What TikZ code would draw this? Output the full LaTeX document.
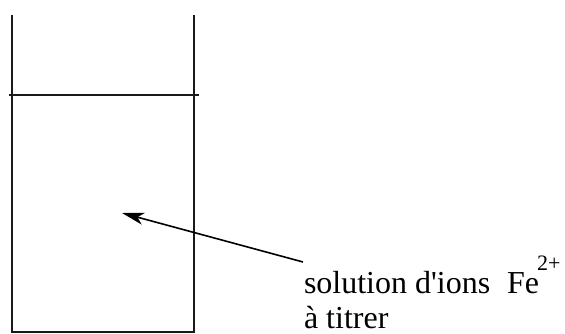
\documentclass[tikz,border=0pt]{standalone}
\usepackage{fontspec}
\newfontfamily\tfont{Liberation Serif}
\usetikzlibrary{arrows.meta}
\tikzset{
  px/.style={x=1pt,y=-1pt},
  wall/.style={line width=1.5pt,black!90},
  lbl/.style={anchor=base west,inner sep=0pt,outer sep=0pt,font=\tfont\fontsize{32}{35}\selectfont},
  sup/.style={anchor=base west,inner sep=0pt,outer sep=0pt,font=\tfont\fontsize{22}{24}\selectfont},
  pointer/.style={line width=1.6pt,-{Stealth[length=22pt,width=12pt,inset=6pt]}}
}
\begin{document}
\begin{tikzpicture}[px]
\useasboundingbox (0,0) rectangle (565,334);
\coordinate (tl) at (12,15);
\coordinate (bl) at (12,332);
\coordinate (br) at (194,332);
\coordinate (tr) at (194,15);
\coordinate (ll) at (9,95);
\coordinate (lr) at (198.5,95);
\coordinate (tip) at (122,213);
\coordinate (tail) at (303,262);
\draw[wall] (tl) -- (bl) -- (br) -- (tr);
\draw[wall] (ll) -- (lr);
\node[lbl] (t1) at (304,293) {solution d'ions};
\node[lbl] (fe) at (507,293) {Fe};
\node[sup] (ch) at (537,270) {2+};
\node[lbl] (t2) at (304,328) {à titrer};
\draw[pointer] (tail) -- (tip);
\end{tikzpicture}
\end{document}
